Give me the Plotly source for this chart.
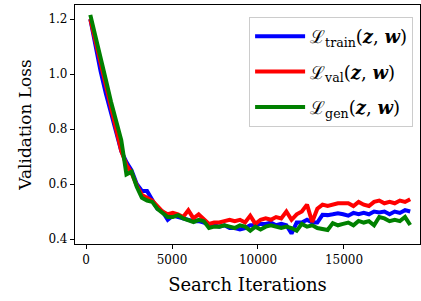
import plotly.graph_objects as go

iterations = [250, 550, 850, 1150, 1450, 1750, 2050, 2350, 2650, 2950,
              3250, 3550, 3850, 4150, 4450, 4750, 5050, 5350, 5650, 5950,
              6250, 6550, 6850, 7150, 7450, 7750, 8050, 8350, 8650, 8950,
              9250, 9550, 9850, 10150, 10450, 10750, 11050, 11350, 11650, 11950,
              12250, 12550, 12850, 13150, 13450, 13750, 14050, 14350, 14650, 14950,
              15250, 15550, 15850, 16150, 16450, 16750, 17050, 17350, 17650, 17950,
              18250, 18550, 18850]

loss_train = [1.20, 1.10, 1.01, 0.93, 0.86, 0.79, 0.72, 0.68, 0.65, 0.60,
              0.575, 0.575, 0.54, 0.51, 0.50, 0.47, 0.485, 0.48, 0.475, 0.47,
              0.465, 0.465, 0.46, 0.45, 0.45, 0.445, 0.45, 0.44, 0.44, 0.435,
              0.44, 0.45, 0.45, 0.455, 0.455, 0.46, 0.45, 0.455, 0.45, 0.42,
              0.46, 0.46, 0.47, 0.46, 0.46, 0.488, 0.487, 0.49, 0.494, 0.49,
              0.485, 0.495, 0.49, 0.495, 0.49, 0.50, 0.497, 0.50, 0.49, 0.50,
              0.495, 0.505, 0.50]

loss_val = [1.20, 1.12, 1.03, 0.95, 0.87, 0.80, 0.72, 0.67, 0.64, 0.595,
            0.56, 0.55, 0.54, 0.52, 0.50, 0.49, 0.495, 0.49, 0.48, 0.505,
            0.475, 0.49, 0.47, 0.455, 0.46, 0.46, 0.465, 0.47, 0.465, 0.47,
            0.46, 0.485, 0.455, 0.47, 0.475, 0.47, 0.48, 0.475, 0.50, 0.47,
            0.49, 0.50, 0.525, 0.462, 0.51, 0.525, 0.52, 0.525, 0.53, 0.53,
            0.53, 0.52, 0.535, 0.525, 0.52, 0.535, 0.54, 0.53, 0.535, 0.53,
            0.54, 0.535, 0.545]

loss_gen = [1.215, 1.14, 1.06, 0.98, 0.90, 0.83, 0.76, 0.635, 0.645, 0.59,
            0.55, 0.54, 0.535, 0.51, 0.495, 0.48, 0.48, 0.487, 0.475, 0.47,
            0.462, 0.47, 0.465, 0.44, 0.445, 0.445, 0.45, 0.445, 0.44, 0.45,
            0.445, 0.43, 0.445, 0.435, 0.445, 0.45, 0.445, 0.44, 0.445, 0.44,
            0.43, 0.455, 0.445, 0.45, 0.44, 0.435, 0.433, 0.458, 0.45, 0.455,
            0.46, 0.45, 0.466, 0.46, 0.465, 0.45, 0.48, 0.475, 0.465, 0.47,
            0.465, 0.48, 0.451]

x_tickvals = [0, 5000, 10000, 15000]
x_ticktext = ["0", "5000", "10000", "15000"]
y_tickvals = [0.4, 0.6, 0.8, 1.0, 1.2]
y_ticktext = ["0.4", "0.6", "0.8", "1.0", "1.2"]

series = [
    ("ℒ<sub>train</sub>(<b><i>z</i></b>, <b><i>w</i></b>)", loss_train, "#0000ff"),
    ("ℒ<sub>val</sub>(<b><i>z</i></b>, <b><i>w</i></b>)", loss_val, "#ff0000"),
    ("ℒ<sub>gen</sub>(<b><i>z</i></b>, <b><i>w</i></b>)", loss_gen, "#008000"),
]

font_family = "DejaVu Serif"

fig = go.Figure()
for i, (name, vals, color) in enumerate(series):
    fig.add_trace(go.Scatter(
        x=iterations, y=vals, mode="lines", name=name,
        line=dict(color=color, width=4),
        legendgroup=f"g{i}",
    ))

fig.update_layout(
    width=421, height=301,
    margin=dict(l=75, r=1, t=5, b=57),
    paper_bgcolor="white", plot_bgcolor="white",
    font=dict(family=font_family, color="#000000", size=12),
    showlegend=True,
    legend=dict(
        x=0.98, y=0.95, xanchor="right", yanchor="top",
        bgcolor="rgba(255,255,255,0.9)", bordercolor="#cccccc", borderwidth=1,
        font=dict(family=font_family, size=18),
        traceorder="grouped", tracegroupgap=9, itemwidth=50,
    ),
)
fig.update_xaxes(
    range=[-640, 19420], tickvals=x_tickvals, ticktext=x_ticktext,
    showline=True, linecolor="black", linewidth=1.2, mirror=True,
    ticks="outside", ticklen=4, tickcolor="black",
    showgrid=False, zeroline=False, automargin=False,
    tickfont=dict(size=12),
    title=dict(text="Search Iterations", font=dict(size=18), standoff=12),
)
fig.update_yaxes(
    range=[0.382, 1.251], tickvals=y_tickvals, ticktext=y_ticktext,
    showline=True, linecolor="black", linewidth=1.2, mirror=True,
    ticks="outside", ticklen=4, tickcolor="black",
    showgrid=False, zeroline=False, automargin=False,
    tickfont=dict(size=12),
    title=dict(text="Validation Loss", font=dict(size=17), standoff=12),
)

fig.write_html("out.html", config={"displayModeBar": False},
               post_script="document.body.style.margin='0';")
